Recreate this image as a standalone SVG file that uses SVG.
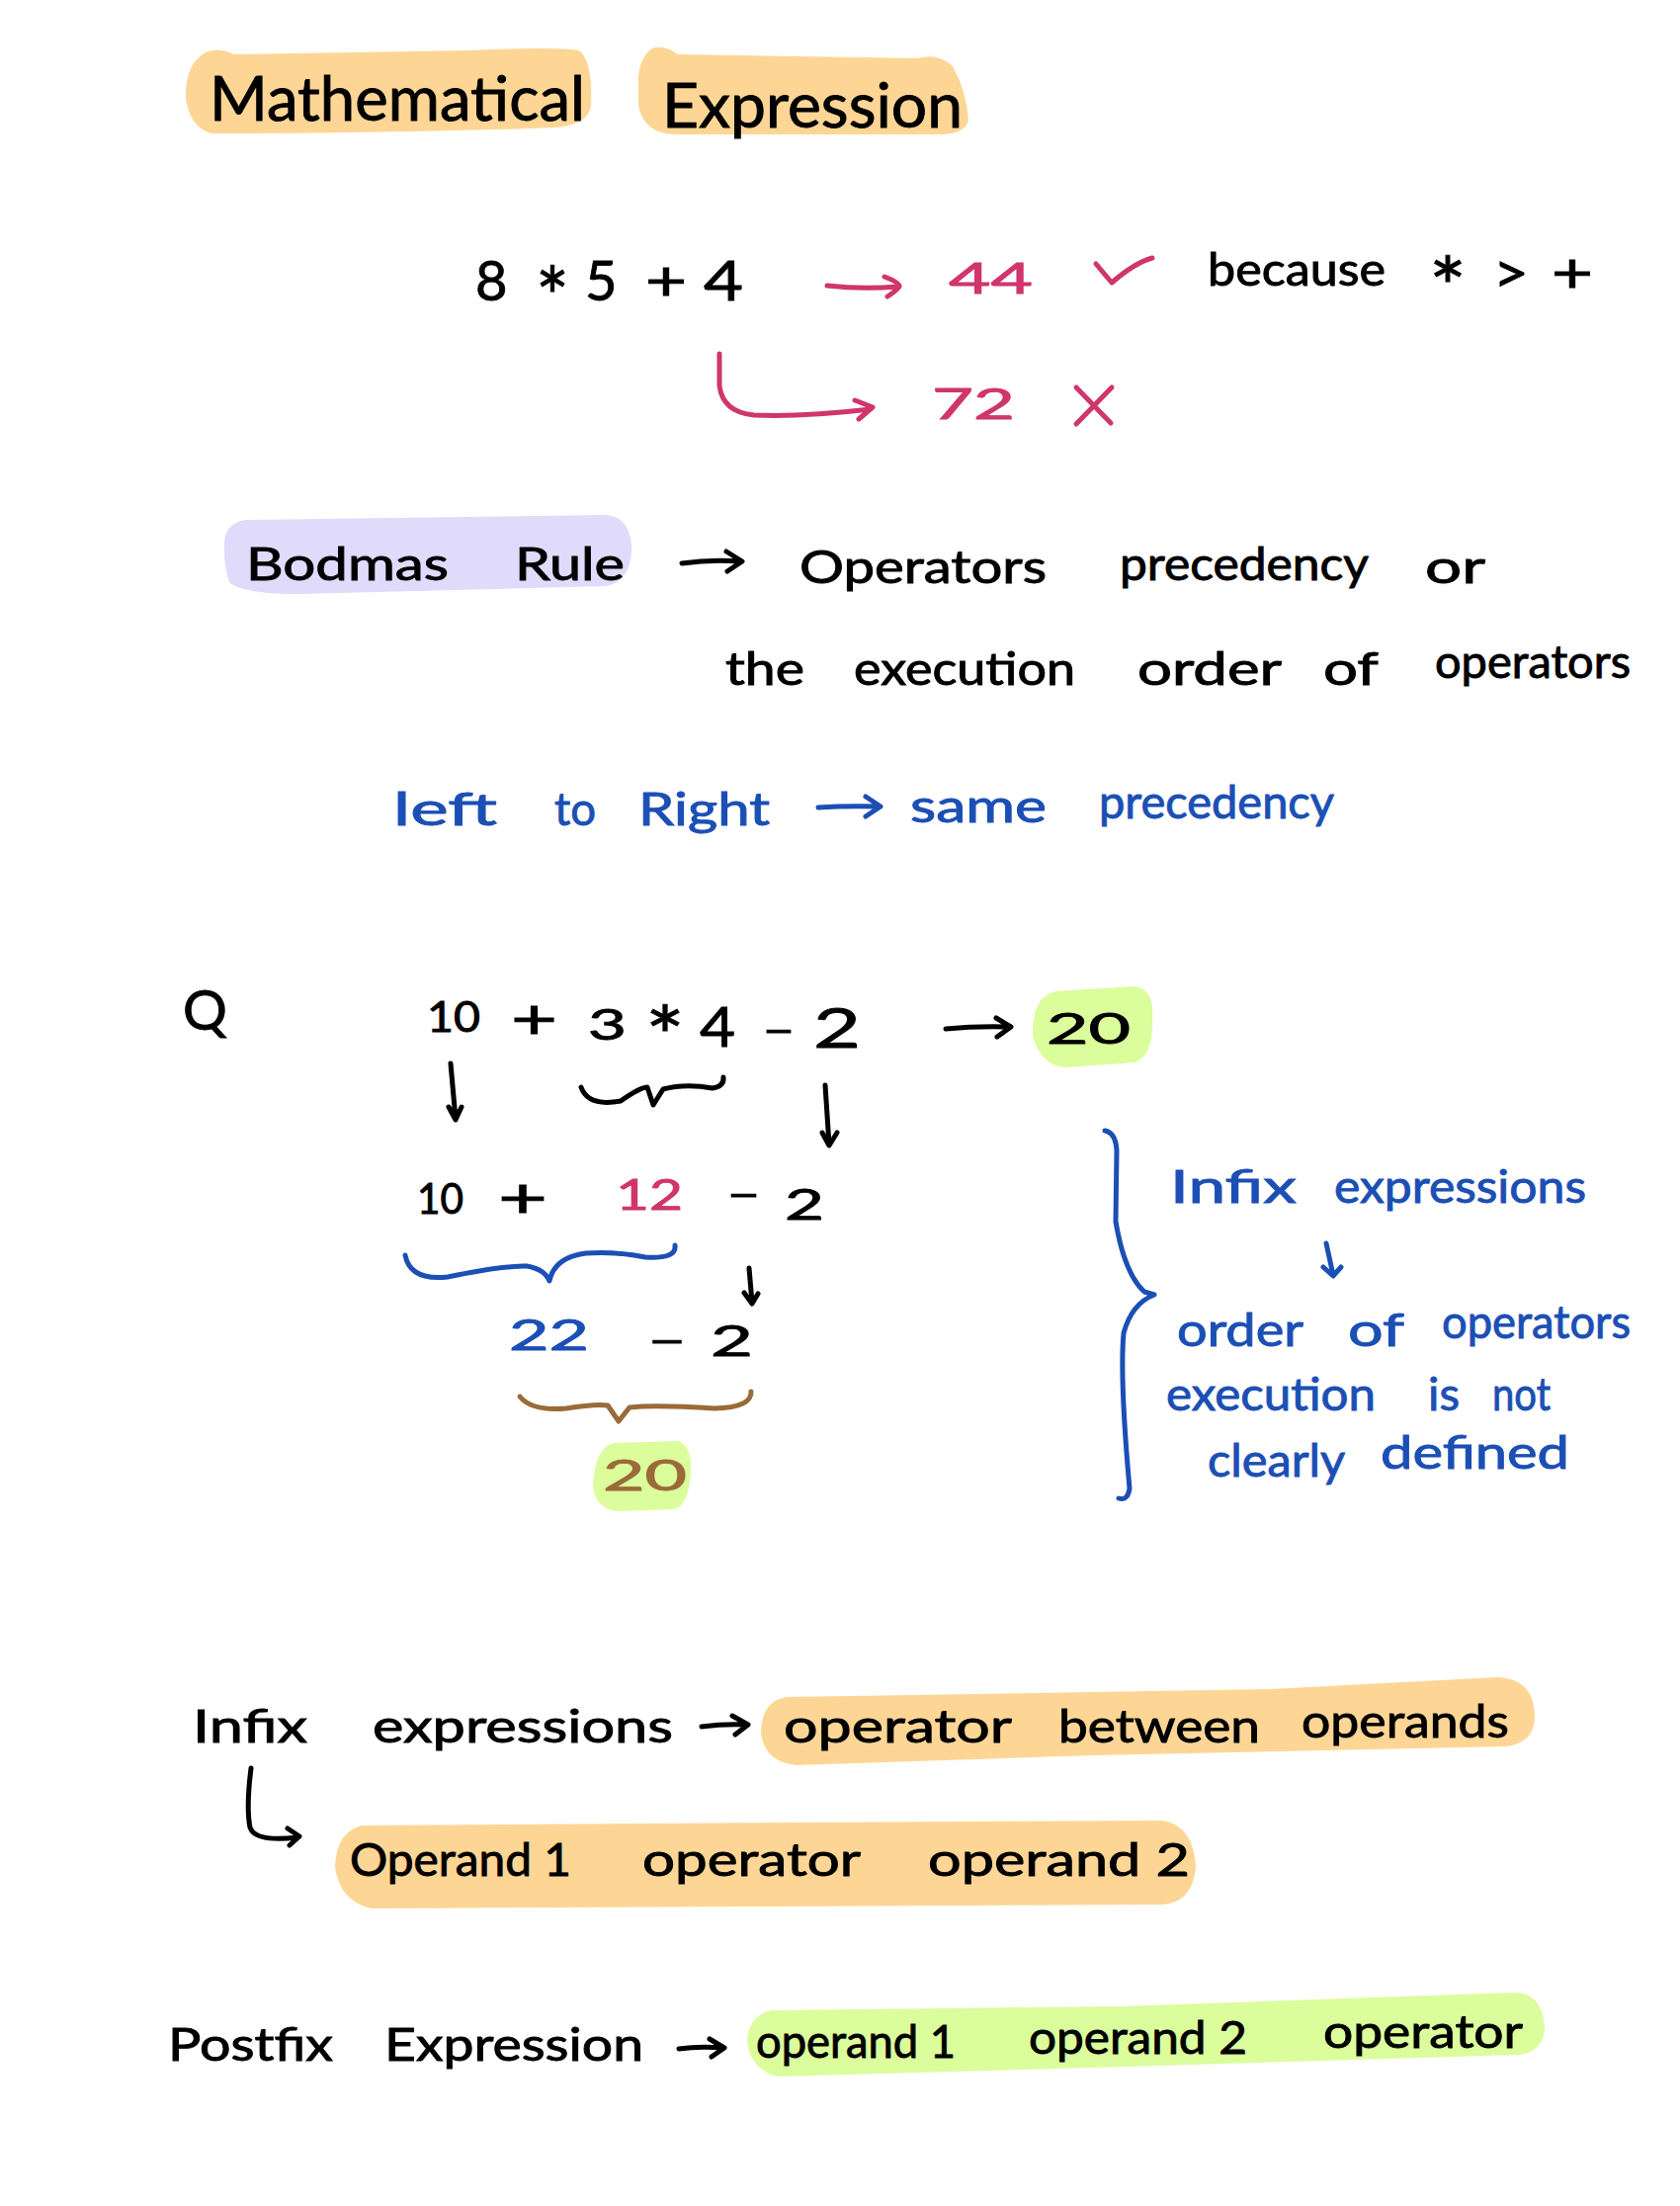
<svg xmlns="http://www.w3.org/2000/svg" width="1700" height="2232" viewBox="0 0 1700 2232">
<defs><style>
text{font-family:"Lato","Noto Sans",sans-serif;font-size:46px;fill:#000;stroke:#000;stroke-width:.9px}
.t{font-size:62px}.m{font-size:56px}.s{font-size:42px}.a{font-size:84px}
text.p{fill:#d0356b;stroke:#d0356b}text.b{fill:#1b4fb5;stroke:#1b4fb5}text.r{fill:#9a6a38;stroke:#9a6a38}
.or{fill:#fdd696}.gr{fill:#dbfd9c}.pu{fill:#e0dbfb}
#connectors path{fill:none;stroke-width:5;stroke-linecap:round;stroke-linejoin:round;stroke:#000}
#connectors .cp{stroke:#d0356b}#connectors .cb{stroke:#1b4fb5}#connectors .cr{stroke:#9a6a38}
</style></defs>
<rect width="1700" height="2232" fill="#fff"/>
<g id="highlights" transform="translate(4,7)">
<path class="or" d="M204 46Q218 40 232 48L470 44Q560 40 582 44Q596 55 594 100Q592 118 560 122Q400 128 210 128Q188 122 184 92Q183 58 204 46Z"/>
<path class="or" d="M656 42Q668 38 682 48L925 52Q945 46 960 60Q974 85 976 115Q972 128 950 129L680 129Q648 129 642 100L642 70Q644 50 656 42Z"/>
<path class="pu" d="M245 519L610 514Q632 516 635 544Q636 580 610 586L300 594Q240 594 228 582Q222 565 223 540Q226 521 245 519Z"/>
<path class="gr" d="M1064 996L1144 991Q1164 994 1162 1021Q1164 1061 1144 1068L1074 1073Q1049 1071 1041 1041Q1040 1001 1064 996Z"/>
<path class="gr" d="M617 1453L682 1451Q696 1456 695 1481Q693 1518 677 1520L622 1522Q598 1520 596 1496Q598 1458 617 1453Z"/>
<path class="or" d="M792 1710L1282 1702L1512 1690Q1550 1692 1549 1732Q1548 1755 1522 1760L1102 1769L802 1779Q770 1776 766 1747Q766 1714 792 1710Z"/>
<path class="or" d="M362 1840L802 1837L1172 1835Q1204 1840 1206 1882Q1203 1918 1172 1920L782 1922L372 1924Q340 1917 335 1882Q336 1847 362 1840Z"/>
<path class="gr" d="M777 2027L1132 2023L1532 2009Q1558 2012 1559 2047Q1556 2070 1532 2072L1102 2085L782 2094Q754 2086 752 2057Q754 2032 777 2027Z"/>
</g>
<g id="connectors" transform="translate(7,10)">
<path class="cp" d="M830 279Q866 283 901 280M888 270Q904 276 903 280Q899 285 891 290"/>
<path class="cp" d="M721 348V380Q724 407 756 410Q806 412 874 404M858 395L876 402L862 414"/>
<path class="cp" d="M1102 257L1118 276Q1141 256 1159 251"/>
<path class="cp" d="M1082 382L1117 418M1118 382L1082 419"/>
<path d="M683 560Q711 556 742 558M728 548L744 558L729 568"/>
<path class="cb" d="M821 807Q851 805 882 806M869 796L884 806L869 816"/>
<path d="M950 1031Q981 1028 1014 1029M1001 1020L1016 1029L1002 1039"/>
<path d="M449 1066L454 1122M447 1110L454 1123L460 1110"/>
<path d="M828 1088L832 1148M825 1136L832 1149L840 1136"/>
<path d="M751 1273L754 1308M746 1298L754 1309L760 1299"/>
<path d="M581 1090Q588 1110 621 1104Q641 1090 648 1090L654 1108L664 1092Q686 1086 714 1091Q726 1089 725 1080"/>
<path class="cb" d="M403 1260Q408 1286 446 1282Q506 1270 526 1271Q544 1274 549 1286Q554 1262 586 1258Q616 1256 646 1262Q678 1264 676 1250"/>
<path class="cr" d="M519 1403Q531 1418 566 1415Q596 1410 608 1412L619 1428L630 1414Q656 1411 716 1415Q754 1414 753 1398"/>
<path class="cb" d="M1111 1134Q1122 1136 1123 1154L1122 1226Q1131 1279 1151 1297L1161 1300Q1138 1309 1130 1339Q1126 1384 1136 1496Q1134 1509 1125 1506"/>
<path class="cb" d="M1335 1248L1342 1280M1332 1272L1342 1281L1350 1272"/>
<path d="M703 1737Q726 1734 748 1735M734 1726L750 1735L737 1745"/>
<path d="M247 1779Q242 1819 246 1839Q251 1854 294 1849M284 1840L296 1848L286 1857"/>
<path d="M680 2063Q701 2060 724 2062M711 2053L726 2062L713 2071"/>
</g>
<g transform="translate(8,13)">
<g id="title-1"><text class="t" x="204" y="109" textLength="380" lengthAdjust="spacingAndGlyphs">Mathematical</text></g>
<g id="title-2"><text class="t" x="662" y="116" textLength="304" lengthAdjust="spacingAndGlyphs">Expression</text></g>
<g id="expr-1">
<text class="m" x="473" y="291">8</text>
<text class="a" x="534" y="318" textLength="34" lengthAdjust="spacingAndGlyphs">*</text>
<text class="m" x="584" y="291">5</text>
<text class="m" x="645" y="291" textLength="42" lengthAdjust="spacingAndGlyphs">+</text>
<text class="m" x="704" y="291" textLength="40" lengthAdjust="spacingAndGlyphs">4</text>
<text class="p s" x="952" y="284" textLength="85" lengthAdjust="spacingAndGlyphs">44</text>
<text class="p s" x="935" y="411" textLength="84" lengthAdjust="spacingAndGlyphs">72</text>
<text x="1214" y="276" textLength="180" lengthAdjust="spacingAndGlyphs">because</text>
<text class="a" x="1438" y="308" textLength="38" lengthAdjust="spacingAndGlyphs">*</text>
<text class="m" x="1503" y="283" textLength="36" lengthAdjust="spacingAndGlyphs">&gt;</text>
<text class="m" x="1562" y="283" textLength="42" lengthAdjust="spacingAndGlyphs">+</text>
</g>
<g id="bodmas">
<text x="241" y="574" textLength="205" lengthAdjust="spacingAndGlyphs">Bodmas</text>
<text x="513" y="574" textLength="111" lengthAdjust="spacingAndGlyphs">Rule</text>
<text x="801" y="577" textLength="250" lengthAdjust="spacingAndGlyphs">Operators</text>
<text x="1125" y="574" textLength="252" lengthAdjust="spacingAndGlyphs">precedency</text>
<text x="1434" y="577" textLength="61" lengthAdjust="spacingAndGlyphs">or</text>
<text x="726" y="680" textLength="80" lengthAdjust="spacingAndGlyphs">the</text>
<text x="856" y="680" textLength="224" lengthAdjust="spacingAndGlyphs">execution</text>
<text x="1143" y="680" textLength="146" lengthAdjust="spacingAndGlyphs">order</text>
<text x="1331" y="680" textLength="56" lengthAdjust="spacingAndGlyphs">of</text>
<text x="1444" y="673" textLength="198" lengthAdjust="spacingAndGlyphs">operators</text>
</g>
<g id="left-right">
<text class="b" x="390" y="822" textLength="105" lengthAdjust="spacingAndGlyphs">left</text>
<text class="b" x="553" y="822" textLength="42" lengthAdjust="spacingAndGlyphs">to</text>
<text class="b" x="638" y="822" textLength="133" lengthAdjust="spacingAndGlyphs">Right</text>
<text class="b" x="913" y="819" textLength="138" lengthAdjust="spacingAndGlyphs">same</text>
<text class="b" x="1104" y="815" textLength="238" lengthAdjust="spacingAndGlyphs">precedency</text>
</g>
<g id="question">
<text class="m" x="177" y="1029">Q</text>
<text class="s" x="424" y="1031" textLength="54" lengthAdjust="spacingAndGlyphs">10</text>
<text class="m" x="509" y="1038" textLength="47" lengthAdjust="spacingAndGlyphs">+</text>
<text class="s" x="587" y="1039" textLength="39" lengthAdjust="spacingAndGlyphs">3</text>
<text class="a" x="645" y="1066" textLength="40" lengthAdjust="spacingAndGlyphs">*</text>
<text class="m" x="700" y="1046" textLength="36" lengthAdjust="spacingAndGlyphs">4</text>
<text class="s" x="764" y="1045" textLength="32" lengthAdjust="spacingAndGlyphs">−</text>
<text class="m" x="815" y="1047" textLength="48" lengthAdjust="spacingAndGlyphs">2</text>
<text class="s" x="1051" y="1043" textLength="85" lengthAdjust="spacingAndGlyphs">20</text>
<text class="s" x="414" y="1215" textLength="47" lengthAdjust="spacingAndGlyphs">10</text>
<text class="m" x="496" y="1219" textLength="50" lengthAdjust="spacingAndGlyphs">+</text>
<text class="p s" x="615" y="1211" textLength="68" lengthAdjust="spacingAndGlyphs">12</text>
<text class="s" x="728" y="1211" textLength="33" lengthAdjust="spacingAndGlyphs">−</text>
<text class="s" x="786" y="1221" textLength="40" lengthAdjust="spacingAndGlyphs">2</text>
<text class="b s" x="507" y="1353" textLength="81" lengthAdjust="spacingAndGlyphs">22</text>
<text class="s" x="648" y="1359" textLength="38" lengthAdjust="spacingAndGlyphs">−</text>
<text class="s" x="711" y="1359" textLength="43" lengthAdjust="spacingAndGlyphs">2</text>
<text class="r s" x="602" y="1495" textLength="85" lengthAdjust="spacingAndGlyphs">20</text>
</g>
<g id="infix-note">
<text class="b" x="1176" y="1204" textLength="128" lengthAdjust="spacingAndGlyphs">Infix</text>
<text class="b" x="1342" y="1204" textLength="255" lengthAdjust="spacingAndGlyphs">expressions</text>
<text class="b" x="1183" y="1349" textLength="128" lengthAdjust="spacingAndGlyphs">order</text>
<text class="b" x="1356" y="1349" textLength="57" lengthAdjust="spacingAndGlyphs">of</text>
<text class="b" x="1451" y="1341" textLength="191" lengthAdjust="spacingAndGlyphs">operators</text>
<text class="b" x="1172" y="1414" textLength="212" lengthAdjust="spacingAndGlyphs">execution</text>
<text class="b" x="1437" y="1414" textLength="32" lengthAdjust="spacingAndGlyphs">is</text>
<text class="b" x="1502" y="1414" textLength="59" lengthAdjust="spacingAndGlyphs">not</text>
<text class="b" x="1214" y="1481" textLength="139" lengthAdjust="spacingAndGlyphs">clearly</text>
<text class="b" x="1389" y="1473" textLength="191" lengthAdjust="spacingAndGlyphs">defined</text>
</g>
<g id="infix">
<text x="187" y="1750" textLength="116" lengthAdjust="spacingAndGlyphs">Infix</text>
<text x="369" y="1750" textLength="304" lengthAdjust="spacingAndGlyphs">expressions</text>
<text x="785" y="1750" textLength="231" lengthAdjust="spacingAndGlyphs">operator</text>
<text x="1063" y="1750" textLength="204" lengthAdjust="spacingAndGlyphs">between</text>
<text x="1309" y="1745" textLength="210" lengthAdjust="spacingAndGlyphs">operands</text>
<text x="346" y="1885" textLength="224" lengthAdjust="spacingAndGlyphs">Operand 1</text>
<text x="642" y="1885" textLength="221" lengthAdjust="spacingAndGlyphs">operator</text>
<text x="931" y="1885" textLength="265" lengthAdjust="spacingAndGlyphs">operand 2</text>
</g>
<g id="postfix">
<text x="162" y="2072" textLength="167" lengthAdjust="spacingAndGlyphs">Postfix</text>
<text x="381" y="2072" textLength="262" lengthAdjust="spacingAndGlyphs">Expression</text>
<text x="757" y="2069" textLength="202" lengthAdjust="spacingAndGlyphs">operand 1</text>
<text x="1033" y="2065" textLength="221" lengthAdjust="spacingAndGlyphs">operand 2</text>
<text x="1331" y="2059" textLength="202" lengthAdjust="spacingAndGlyphs">operator</text>
</g>
</g>
</svg>
